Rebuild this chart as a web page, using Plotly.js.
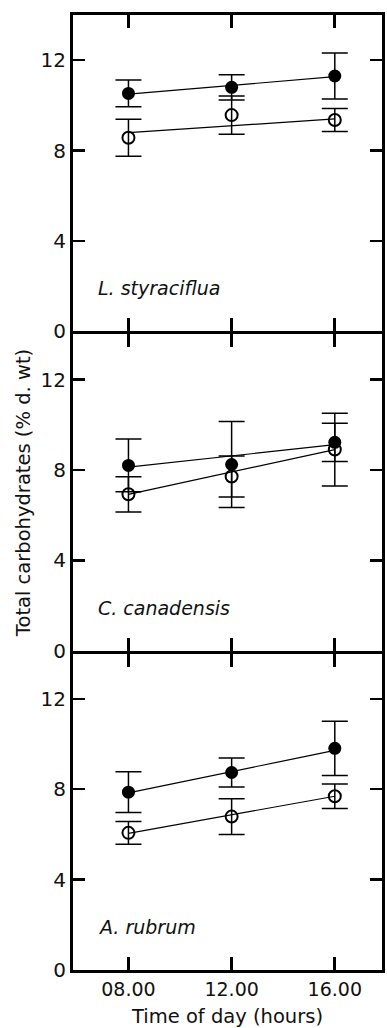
<!DOCTYPE html>
<html>
<head>
<meta charset="utf-8">
<script src="https://cdn.plot.ly/plotly-3.0.1.min.js"></script>
<style>
  html, body { margin: 0; padding: 0; background: #ffffff; }
  #chart { width: 387px; height: 1028px; }
</style>
</head>
<body>
<div id="chart"></div>
<script>
// ---- Data ----
const hours = [8, 12, 16];
const hourLabels = ['08.00', '12.00', '16.00'];
const fitHours = [8, 16];

const species = ['L. styraciflua', 'C. canadensis', 'A. rubrum'];

// L. styraciflua
const lsFilled = [10.53, 10.80, 11.30];
const lsFilledErr = [0.59, 0.56, 1.02];
const lsOpen = [8.57, 9.57, 9.35];
const lsOpenErr = [0.82, 0.85, 0.51];
const lsFilledFit = [10.50, 11.27];
const lsOpenFit = [8.79, 9.40];

// C. canadensis
const ccFilled = [8.20, 8.24, 9.22];
const ccFilledErr = [1.17, 1.90, 0.85];
const ccOpen = [6.92, 7.71, 8.90];
const ccOpenErr = [0.78, 0.91, 1.61];
const ccFilledFit = [8.12, 9.12];
const ccOpenFit = [6.92, 8.90];

// A. rubrum
const arFilled = [7.87, 8.74, 9.81];
const arFilledErr = [0.90, 0.64, 1.20];
const arOpen = [6.07, 6.79, 7.69];
const arOpenErr = [0.50, 0.79, 0.54];
const arFilledFit = [7.84, 9.72];
const arOpenFit = [6.05, 7.69];

const yTickVals = [0, 4, 8, 12];

// ---- Build traces ----
const FONT = 'DejaVu Sans, Arial, sans-serif';
const panels = [
  {xa: 'x', ya: 'y', f: lsFilled, fe: lsFilledErr, o: lsOpen, oe: lsOpenErr, ff: lsFilledFit, of: lsOpenFit},
  {xa: 'x2', ya: 'y2', f: ccFilled, fe: ccFilledErr, o: ccOpen, oe: ccOpenErr, ff: ccFilledFit, of: ccOpenFit},
  {xa: 'x3', ya: 'y3', f: arFilled, fe: arFilledErr, o: arOpen, oe: arOpenErr, ff: arFilledFit, of: arOpenFit}
];

const traces = [];
panels.forEach(p => {
  traces.push({x: fitHours, y: p.ff, xaxis: p.xa, yaxis: p.ya, mode: 'lines',
    line: {color: '#000', width: 1.2}, showlegend: false, hoverinfo: 'skip'});
  traces.push({x: fitHours, y: p.of, xaxis: p.xa, yaxis: p.ya, mode: 'lines',
    line: {color: '#000', width: 1.2}, showlegend: false, hoverinfo: 'skip'});
  traces.push({x: hours, y: p.o, xaxis: p.xa, yaxis: p.ya, mode: 'markers',
    marker: {symbol: 'circle-open', size: 12, color: '#000', line: {width: 2, color: '#000'}},
    error_y: {type: 'data', array: p.oe, visible: true, color: '#000', thickness: 1.5, width: 13},
    showlegend: false});
  traces.push({x: hours, y: p.f, xaxis: p.xa, yaxis: p.ya, mode: 'markers',
    marker: {symbol: 'circle', size: 13, color: '#000'},
    error_y: {type: 'data', array: p.fe, visible: true, color: '#000', thickness: 1.5, width: 13},
    showlegend: false});
});

// ---- Axes ----
function xAxis(anchor, showLabels) {
  return {
    anchor: anchor, range: [5.85, 17.83], tickvals: hours, ticktext: hourLabels,
    showticklabels: showLabels, ticks: 'inside', ticklen: 13, tickwidth: 3, tickcolor: '#000',
    showline: true, linewidth: 3, linecolor: '#000', mirror: 'ticks',
    showgrid: false, zeroline: false, ticklabelstandoff: 0,
    tickfont: {family: FONT, size: 19, color: '#111'}
  };
}
function yAxis(anchor, domain) {
  return {
    anchor: anchor, domain: domain, range: [0, 14], tickvals: yTickVals,
    ticks: 'inside', ticklen: 12, tickwidth: 2.5, tickcolor: '#000',
    showline: true, linewidth: 3, linecolor: '#000', mirror: 'ticks',
    showgrid: false, zeroline: false, ticklabelstandoff: 0,
    tickfont: {family: FONT, size: 20, color: '#111'}
  };
}

const xa3 = xAxis('y3', true);
xa3.title = {text: 'Time of day (hours)', font: {family: FONT, size: 19.5, color: '#111'}, standoff: 12};
const ya2 = yAxis('x2', [0.33438, 0.66562]);
ya2.title = {text: 'Total carbohydrates (% d. wt)', font: {family: FONT, size: 19.5, color: '#111'}, standoff: 5};

const annotations = species.map((s, i) => ({
  text: s, xref: ['x', 'x2', 'x3'][i], yref: ['y', 'y2', 'y3'][i],
  x: 6.75, y: 1.9, xanchor: 'left', yanchor: 'middle', showarrow: false,
  font: {family: FONT, size: 19, color: '#111', style: 'italic'}
}));

const layout = {
  width: 387, height: 1028,
  margin: {l: 72.5, r: 4.5, t: 14.5, b: 58},
  paper_bgcolor: '#fff', plot_bgcolor: '#fff',
  showlegend: false,
  xaxis: xAxis('y', false),
  xaxis2: xAxis('y2', false),
  xaxis3: xa3,
  yaxis: yAxis('x', [0.66876, 1]),
  yaxis2: ya2,
  yaxis3: yAxis('x3', [0, 0.33124]),
  annotations: annotations
};

Plotly.newPlot('chart', traces, layout, {displayModeBar: false, staticPlot: true});
</script>
</body>
</html>
